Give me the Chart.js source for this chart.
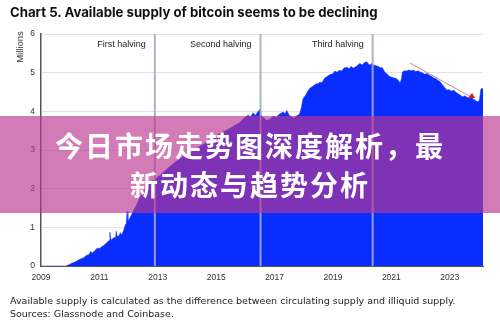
<!DOCTYPE html>
<html>
<head>
<meta charset="utf-8">
<script src="https://cdn.jsdelivr.net/npm/chart.js@4.4.1/dist/chart.umd.min.js"></script>
<style>
  body { margin: 0; background: #fff; }
  #wrap { position: relative; width: 500px; height: 331px; overflow: hidden; }
  #grafico { position: absolute; left: 0; top: 0; }
  #titulo { position: absolute; left: 10px; top: 4px; font: bold 13.2px Inter, "Liberation Sans", sans-serif; color: #111; white-space: nowrap; }
  #nota { position: absolute; left: 10px; top: 294px; font: 9.5px "DejaVu Sans", sans-serif; color: #222; line-height: 13px; white-space: nowrap; }
  #banner { position: absolute; left: 0; top: 116px; width: 500px; height: 97px; background: rgba(186, 55, 144, 0.66);
    color: #fff; text-align: center; font: bold 28px "Noto Sans CJK SC", sans-serif; letter-spacing: 2px; line-height: 39px;
    padding-top: 10px; box-sizing: border-box; }
</style>
</head>
<body>
<div id="wrap">
  <canvas id="grafico" width="500" height="331"></canvas>
  <div id="titulo">Chart 5. Available supply of bitcoin seems to be declining</div>
  <div id="nota">Available supply is calculated as the difference between circulating supply and illiquid supply.<br>Sources: Glassnode and Coinbase.</div>
  <div id="banner">今日市场走势图深度解析，最<br>新动态与趋势分析</div>
</div>
<script>
// fechas en años decimales y oferta disponible (millones de BTC)
const dates = [
  2009.00, 2009.85, 2009.95, 2010.05, 2010.15, 2010.25, 2010.35, 2010.45, 2010.55, 2010.65,
  2010.70, 2010.75, 2010.85, 2010.92, 2011.00, 2011.08, 2011.15, 2011.22, 2011.28, 2011.33,
  2011.36, 2011.39, 2011.45, 2011.50, 2011.55, 2011.58, 2011.61, 2011.67, 2011.72, 2011.76,
  2011.82, 2011.88, 2011.92, 2011.95, 2011.98, 2012.05, 2012.15, 2012.25, 2012.39, 2012.55,
  2012.70, 2012.85, 2013.00, 2013.08, 2013.30, 2013.55, 2013.80, 2014.00, 2014.25, 2014.50,
  2014.68, 2014.90, 2015.10, 2015.37, 2015.60, 2015.82, 2015.95, 2016.09, 2016.18, 2016.26,
  2016.35, 2016.42, 2016.50, 2016.55, 2016.62, 2016.74, 2016.85, 2016.95, 2017.05, 2017.15,
  2017.29, 2017.36, 2017.42, 2017.50, 2017.58, 2017.66, 2017.75, 2017.85, 2017.92, 2017.97,
  2018.05, 2018.12, 2018.21, 2018.30, 2018.40, 2018.50, 2018.55, 2018.62, 2018.72, 2018.80,
  2018.90, 2019.00, 2019.06, 2019.14, 2019.22, 2019.30, 2019.38, 2019.48, 2019.55, 2019.62,
  2019.70, 2019.78, 2019.86, 2019.92, 2020.00, 2020.08, 2020.16, 2020.22, 2020.27, 2020.33,
  2020.40, 2020.48, 2020.56, 2020.62, 2020.68, 2020.74, 2020.78, 2020.86, 2020.94, 2021.02,
  2021.10, 2021.19, 2021.26, 2021.30, 2021.34, 2021.38, 2021.45, 2021.52, 2021.60, 2021.68,
  2021.76, 2021.84, 2021.92, 2021.98, 2022.06, 2022.14, 2022.22, 2022.30, 2022.39, 2022.46,
  2022.54, 2022.60, 2022.66, 2022.74, 2022.82, 2022.90, 2022.98, 2023.06, 2023.14, 2023.20,
  2023.28, 2023.36, 2023.45, 2023.52, 2023.60, 2023.68, 2023.76, 2023.84, 2023.92, 2023.97,
  2024.02, 2024.06, 2024.10, 2024.14
];
const supply = [
  0, 0, 0.03, 0.07, 0.10, 0.14, 0.18, 0.21, 0.27, 0.30,
  0.38, 0.33, 0.40, 0.46, 0.45, 0.50, 0.53, 0.58, 0.62, 0.66,
  0.88, 0.68, 0.70, 0.74, 0.72, 0.90, 0.76, 0.78, 0.86, 0.80,
  0.90, 1.05, 1.10, 1.42, 1.15, 1.25, 1.40, 1.55, 1.78, 1.98,
  2.12, 2.22, 2.30, 2.35, 2.50, 2.66, 2.80, 2.88, 3.00, 3.12,
  3.20, 3.32, 3.42, 3.52, 3.62, 3.72, 3.82, 3.90, 3.86, 3.96,
  3.90, 3.98, 4.05, 3.88, 3.84, 3.76, 3.80, 3.88, 3.84, 3.92,
  3.98, 3.94, 4.02, 3.90, 3.86, 3.82, 3.88, 3.92, 4.10, 4.32,
  4.40, 4.50, 4.60, 4.64, 4.70, 4.72, 4.76, 4.74, 4.86, 4.90,
  4.95, 4.97, 5.04, 5.01, 5.06, 5.04, 5.12, 5.14, 5.10, 5.16,
  5.12, 5.15, 5.20, 5.24, 5.20, 5.26, 5.28, 5.22, 5.20, 5.24,
  5.20, 5.18, 5.16, 5.12, 5.14, 5.06, 5.01, 4.96, 4.90, 4.88,
  4.86, 4.84, 4.78, 4.74, 4.82, 5.02, 5.05, 5.04, 5.07, 5.05,
  5.06, 5.03, 5.05, 5.02, 5.00, 4.96, 4.98, 4.93, 4.90, 4.86,
  4.84, 4.80, 4.78, 4.70, 4.62, 4.55, 4.56, 4.52, 4.55, 4.50,
  4.46, 4.42, 4.37, 4.40, 4.36, 4.34, 4.35, 4.30, 4.26, 4.24,
  4.30, 4.55, 4.60, 4.58
];
const yearTicks = [2009, 2011, 2013, 2015, 2017, 2019, 2021, 2023];
const supplyTicks = [0, 1, 2, 3, 4, 5, 6];
const halvingDates = [2012.9, 2016.52, 2020.36];
const halvingLabels = ['First halving', 'Second halving', 'Third halving'];
// flecha de tendencia: [año, valor] inicio y fin
const arrowFrom = [2021.64, 5.25];
const arrowTo = [2023.73, 4.37];

// líneas de halving, etiquetas, flecha y título del eje
const extrasPlugin = {
  id: 'extras',
  afterDatasetsDraw(chart) {
    const { ctx, chartArea, scales: { x, y } } = chart;
    ctx.save();
    ctx.strokeStyle = 'rgba(165, 170, 186, 0.9)';
    ctx.lineWidth = 2;
    halvingDates.forEach((d, i) => {
      const px = x.getPixelForValue(d);
      ctx.beginPath();
      ctx.moveTo(px, chartArea.top);
      ctx.lineTo(px, chartArea.bottom);
      ctx.stroke();
      ctx.fillStyle = '#222';
      ctx.font = '9px "Liberation Sans", Arial, sans-serif';
      ctx.textAlign = 'right';
      ctx.textBaseline = 'middle';
      ctx.fillText(halvingLabels[i], px - 9, chartArea.top + 11);
    });

    const x1 = x.getPixelForValue(arrowFrom[0]), y1 = y.getPixelForValue(arrowFrom[1]);
    const x2 = x.getPixelForValue(arrowTo[0]), y2 = y.getPixelForValue(arrowTo[1]);
    ctx.strokeStyle = '#c48a80';
    ctx.lineWidth = 1;
    ctx.beginPath();
    ctx.moveTo(x1, y1);
    ctx.lineTo(x2, y2);
    ctx.stroke();
    ctx.fillStyle = '#d41c1c';
    ctx.beginPath();
    ctx.moveTo(x2 + 1, y2 - 4);
    ctx.lineTo(x2 + 4, y2 + 1);
    ctx.lineTo(x2 - 3, y2 + 1);
    ctx.closePath();
    ctx.fill();

    ctx.translate(20, chartArea.top + 13);
    ctx.rotate(-Math.PI / 2);
    ctx.fillStyle = '#333';
    ctx.font = '9.5px "Liberation Sans", Arial, sans-serif';
    ctx.textAlign = 'center';
    ctx.textBaseline = 'middle';
    ctx.fillText('Millions', 0, 0);
    ctx.restore();
  }
};

const ctx = document.getElementById('grafico');
new Chart(ctx.getContext('2d'), {
  type: 'line',
  data: {
    datasets: [{
      label: 'Available supply',
      data: dates.map((d, i) => ({ x: d, y: supply[i] })),
      fill: 'origin',
      backgroundColor: '#0a2dff',
      borderColor: '#0a2dff',
      borderWidth: 0.5,
      pointRadius: 0,
      tension: 0
    }]
  },
  options: {
    responsive: false,
    animation: false,
    layout: { padding: { left: 0, top: 34, right: 17, bottom: 45 } },
    plugins: {
      legend: { display: false },
      tooltip: { enabled: false }
    },
    scales: {
      x: {
        type: 'linear',
        min: 2009,
        max: 2024.14,
        afterBuildTicks: (scale) => { scale.ticks = yearTicks.map(v => ({ value: v })); },
        afterFit: (scale) => { scale.height = 20; },
        ticks: {
          color: '#333',
          font: { family: '"Liberation Sans", Arial, sans-serif', size: 8.5 },
          maxRotation: 0,
          padding: 4,
          callback: (v) => String(v)
        },
        grid: { display: false, drawTicks: true, tickLength: 3 },
        border: { color: '#555', width: 1 }
      },
      y: {
        min: 0,
        max: 6,
        afterBuildTicks: (scale) => { scale.ticks = supplyTicks.map(v => ({ value: v })); },
        afterFit: (scale) => { scale.width = 41; },
        ticks: {
          color: '#333',
          font: { family: '"Liberation Sans", Arial, sans-serif', size: 8.5 },
          padding: 6
        },
        grid: { color: '#e2e2e2', drawTicks: false },
        border: { color: '#555', width: 1.5 }
      }
    }
  },
  plugins: [extrasPlugin]
});
</script>
</body>
</html>
